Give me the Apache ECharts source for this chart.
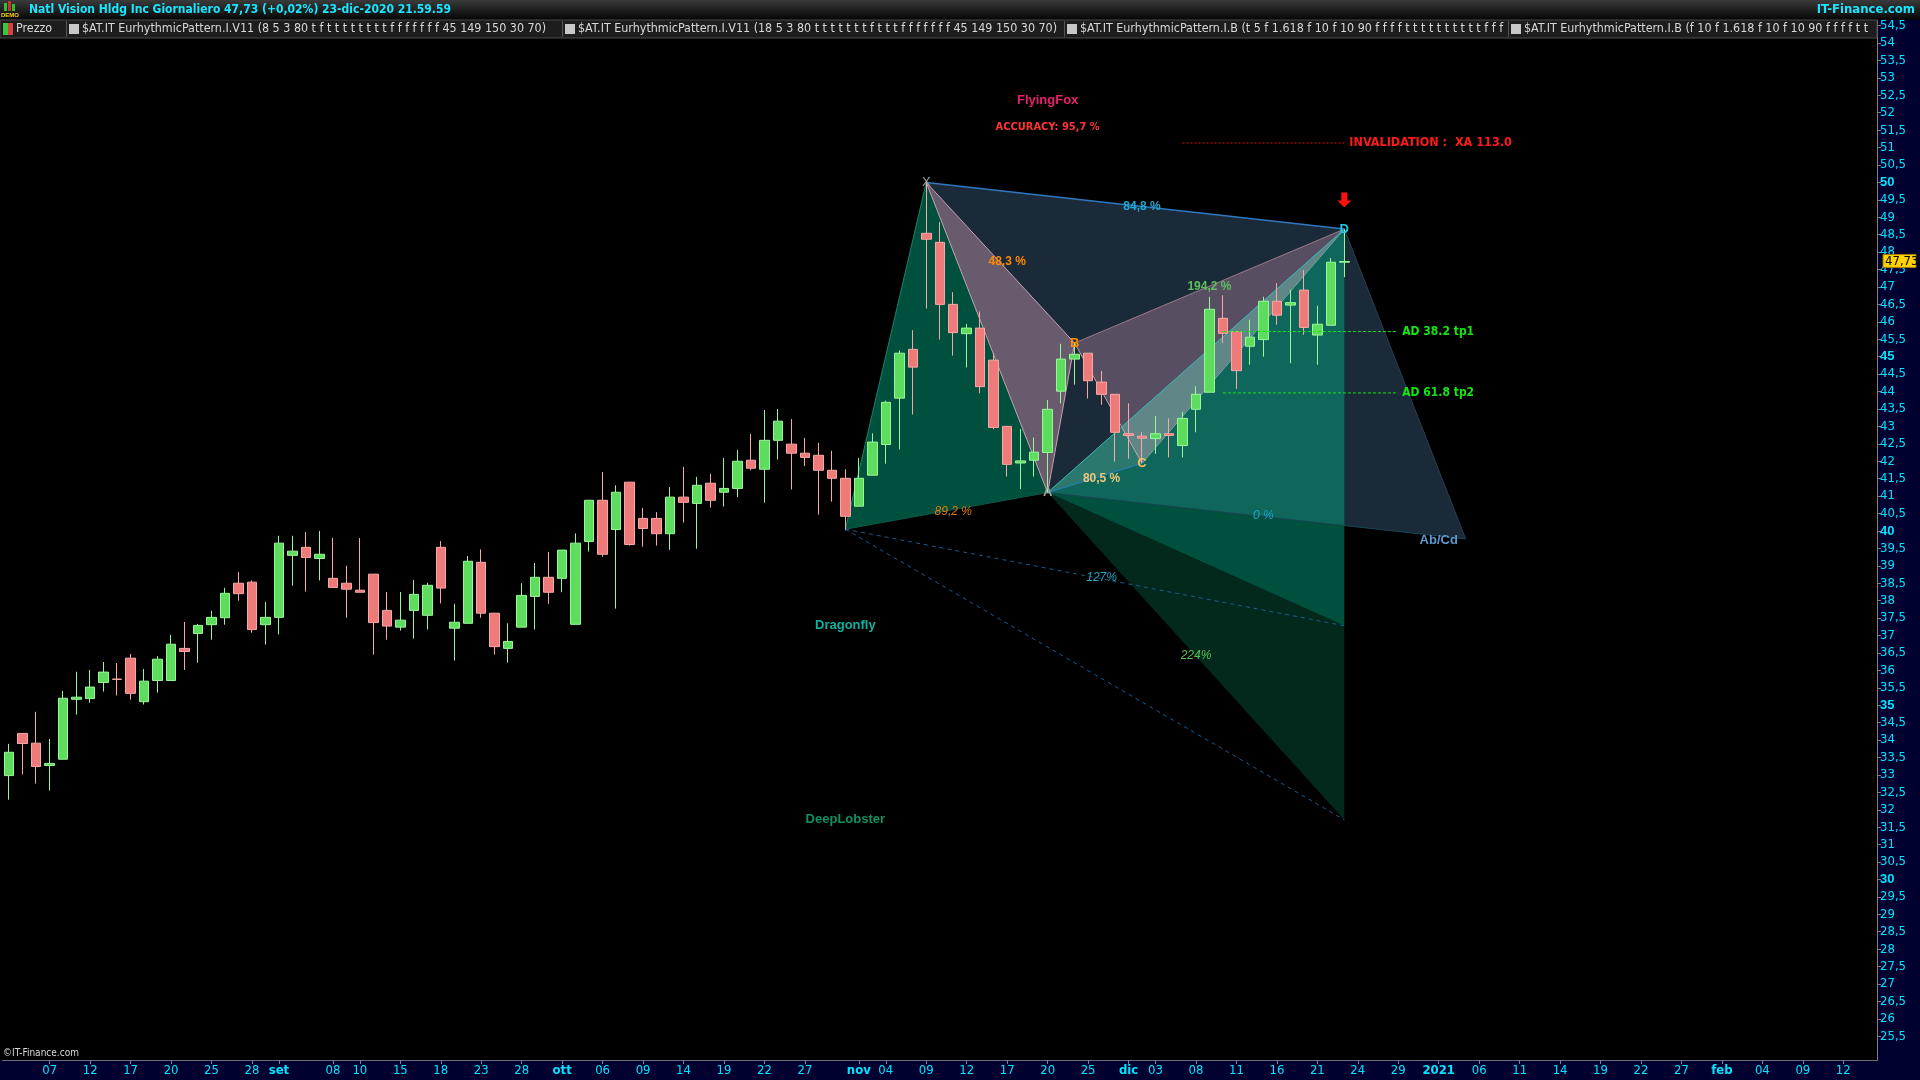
<!DOCTYPE html>
<html><head><meta charset="utf-8">
<script src="https://cdn.jsdelivr.net/npm/echarts@6/dist/echarts.min.js"></script>
<style>html,body{margin:0;padding:0;background:#000;overflow:hidden}#c{width:1920px;height:1080px}</style>
</head><body><div id="c"></div>
<script>
// ---------- DATA ----------
// daily candles, 4 Aug 2020 .. 23 Dec 2020 (100 bars)
const opens = [32.98,34.19,33.91,33.27,33.45,35.17,35.19,35.65,35.75,36.35,35.10,35.71,35.71,36.63,37.06,37.31,37.51,38.50,38.53,37.31,
37.52,39.30,39.53,39.21,38.64,38.50,38.30,38.76,37.72,37.24,37.72,37.58,39.53,37.21,37.35,39.10,37.64,36.63,37.24,38.12,
38.67,38.64,37.32,39.70,40.88,40.04,41.40,40.36,40.36,39.92,40.97,40.79,41.37,41.11,41.22,42.03,41.77,42.60,42.49,42.23,
42.17,41.74,41.51,40.71,41.60,42.48,43.81,45.21,48.54,48.28,46.50,45.66,45.82,44.90,43.00,41.95,42.03,42.25,44.01,44.93,
45.10,44.27,43.92,42.79,42.72,42.65,42.79,42.45,43.49,43.98,46.10,45.72,45.30,45.49,46.59,46.48,46.91,45.62,45.90,47.71];
const closes = [33.65,33.90,33.24,33.33,35.20,35.23,35.52,35.95,35.74,35.34,35.69,36.32,36.75,36.54,37.29,37.52,38.21,38.20,37.17,37.52,
39.65,39.42,39.24,39.33,38.38,38.33,38.24,37.37,37.27,37.44,38.18,38.44,38.36,37.38,39.13,37.64,36.68,36.83,38.15,38.67,
38.24,39.45,39.65,40.88,39.33,41.11,39.61,40.07,39.92,40.97,40.82,41.31,40.88,41.22,42.00,41.80,42.60,43.15,42.23,42.11,
41.74,41.51,40.42,41.51,42.55,43.69,45.10,44.70,48.37,46.50,45.69,45.82,44.14,42.97,41.91,42.01,42.26,43.49,44.93,45.07,
44.31,43.92,42.83,42.74,42.66,42.79,42.74,43.23,43.92,46.36,45.67,44.60,45.56,46.59,46.19,46.55,45.84,45.93,47.71,47.73];
const lows = [32.29,33.01,32.75,32.55,33.45,34.73,35.07,35.39,35.28,35.16,35.02,35.36,35.71,36.01,36.22,36.88,37.31,38.00,37.08,36.74,
37.03,38.43,38.26,38.58,38.38,37.51,38.24,36.45,36.88,37.14,36.91,37.17,37.92,36.28,37.35,37.51,36.45,36.22,37.24,37.17,
37.91,38.24,37.32,39.41,39.26,37.77,39.58,39.55,39.58,39.46,40.24,39.49,40.67,40.70,40.97,41.74,40.81,42.05,41.19,41.86,
40.47,40.84,40.02,40.71,41.60,41.93,42.34,43.34,46.38,45.49,45.03,44.69,43.95,42.92,41.56,41.20,41.56,41.10,43.66,44.20,
43.80,43.62,41.99,42.07,41.94,42.21,42.11,42.11,42.83,43.98,45.39,44.07,44.77,45.00,45.92,44.81,45.63,44.77,45.90,47.28];
const highs = [33.89,34.19,34.81,34.03,35.41,35.96,36.01,36.24,36.21,36.47,36.04,36.41,37.02,37.39,37.33,37.71,38.37,38.82,38.58,37.96,
39.86,39.86,39.97,40.00,39.80,39.00,39.80,38.76,38.25,38.25,38.59,38.51,39.71,37.91,39.28,39.47,37.64,37.35,38.50,39.08,
39.40,39.45,39.93,40.88,41.69,41.31,41.40,40.66,40.54,41.26,41.84,41.55,41.64,42.09,42.32,42.78,43.47,43.50,43.21,42.67,
42.53,42.30,41.77,42.09,42.80,43.74,45.18,45.76,50.00,48.86,46.85,45.94,46.30,45.10,43.00,42.92,42.68,43.76,45.37,45.39,
45.10,44.59,43.92,43.66,42.84,43.30,43.23,43.42,44.15,46.72,46.76,45.72,46.06,46.72,47.11,46.92,47.49,46.46,47.83,48.66];
const lastPrice = 47.73;

// x axis: trading-day slots (100 real + future), tick labels at slot index
const SLOT_COUNT = 139;
const xTickLabels = [[3,'07'],[6,'12'],[9,'17'],[12,'20'],[15,'25'],[18,'28'],[20,'set'],[24,'08'],[26,'10'],[29,'15'],
[32,'18'],[35,'23'],[38,'28'],[41,'ott'],[44,'06'],[47,'09'],[50,'14'],[53,'19'],[56,'22'],[59,'27'],[63,'nov'],[65,'04'],
[68,'09'],[71,'12'],[74,'17'],[77,'20'],[80,'25'],[83,'dic'],[85,'03'],[88,'08'],[91,'11'],[94,'16'],[97,'21'],[100,'24'],
[103,'29'],[106,'2021'],[109,'06'],[112,'11'],[115,'14'],[118,'19'],[121,'22'],[124,'27'],[127,'feb'],[130,'04'],[133,'09'],[136,'12']];
const boldXLabels = ['set','ott','nov','dic','2021','feb'];
const yTickValues = [25.5,26,26.5,27,27.5,28,28.5,29,29.5,30,30.5,31,31.5,32,32.5,33,33.5,34,34.5,35,35.5,36,36.5,37,37.5,38,38.5,39,39.5,40,
40.5,41,41.5,42,42.5,43,43.5,44,44.5,45,45.5,46,46.5,47,47.5,48,48.5,49,49.5,50,50.5,51,51.5,52,52.5,53,53.5,54,54.5];
const Y_MIN = 24.82, Y_MAX = 54.66;

// harmonic pattern points [slot, price]
const pX = [68, 50.00], pA = [77, 41.10], pB = [79, 45.39], pC = [84, 41.94], pD = [99, 48.66];
const pZero = [62, 40.05], pAbCd = [108, 39.77], p0pct = [99, 40.15], p127 = [99, 37.28], p224 = [99, 31.71];
const fillShapes = [
  ['navy', [pX, pD, pAbCd, pA]],
  ['green', [pZero, pX, pA]],
  ['dark', [pA, p127, p224]],
  ['mid', [pA, p0pct, p127]],
  ['teal', [pA, pD, p0pct]],
  ['xab', [pX, pA, pB]],
  ['bcd', [pB, pC, pD]],
  ['acd', [pA, pC, pD]]
];
const lineShapes = [
  ['edge', pZero, pA], ['edgeG', pZero, pX], ['zero', pA, pAbCd], ['abcdEdge', pD, pAbCd],
  ['pink', pX, pA], ['pink', pX, pB], ['pink', pA, pB], ['mauve', pB, pD], ['pink', pB, pC],
  ['light', pC, pD], ['blue', pA, pC], ['cyan', pA, pD], ['xd', pX, pD],
  ['dash', pZero, p127], ['dash', pZero, p224]
];
const annotations = [
  ['FlyingFox', 76.9, 52.35, 'flyingfox'], ['ACCURACY: 95,7 %', 76.9, 51.58, 'accuracy'],
  ['84,8 %', 83.8, 49.30, 'ratioXD'], ['48,3 %', 73.9, 47.72, 'ratioAB'], ['194,2 %', 88.9, 47.02, 'ratioCD'],
  ['80,5 %', 80.85, 41.50, 'ratioBC'], ['89,2 %', 69.9, 40.55, 'ratioDf'], ['0 %', 92.9, 40.44, 'ratio0'],
  ['127%', 80.9, 38.65, 'ratio127'], ['224%', 87.8, 36.41, 'ratio224'], ['Ab/Cd', 105.9, 39.74, 'abcd'],
  ['Dragonfly', 62.0, 37.28, 'dragonfly'], ['DeepLobster', 62.0, 31.71, 'lobster'],
  ['X', 68, 50.00, 'pX'], ['A', 77, 41.10, 'pA'], ['B', 79, 45.39, 'pB'], ['C', 84, 41.94, 'pC'], ['D', 99, 48.66, 'pD']
];
const targetLevels = [['AD 38.2 tp1', 45.72], ['AD 61.8 tp2', 43.96]];
const targetSpan = [89.9, 103.0];
const invalidation = ['INVALIDATION :  XA 113.0', 51.13];
const invalidationSpan = [86.85, 99.1];
const arrowPoint = [99, 49.48];

const titleText = 'Natl Vision Hldg Inc Giornaliero 47,73 (+0,02%) 23-dic-2020 21.59.59';
const legendItems = ['Prezzo',
 '$AT.IT EurhythmicPattern.I.V11 (8 5 3 80 t f t t t t t t t t f f f f f f f 45 149 150 30 70)',
 '$AT.IT EurhythmicPattern.I.V11 (18 5 3 80 t t t t t t t f t t t f f f f f f f 45 149 150 30 70)',
 '$AT.IT EurhythmicPattern.I.B (t 5 f 1.618 f 10 f 10 90 f f f f t t t t t t t t t t f f f)',
 '$AT.IT EurhythmicPattern.I.B (f 10 f 1.618 f 10 f 10 90 f f f f t t t t t t t t t t f f f)'];

// ---------- STYLE ----------
const NARROW = "'Liberation Sans Narrow','Arial Narrow','DejaVu Sans Condensed',sans-serif";
const SANS = "'Liberation Sans',Arial,sans-serif";
const AXIS_COLOR = '#00e5ff';
const fillColors = {navy:'#1b2a38', green:'#00503e', dark:'#03291d', mid:'#00503e', teal:'#0f665b',
  xab:'rgba(200,150,175,0.45)', bcd:'rgba(200,150,175,0.35)', acd:'rgba(190,215,215,0.16)'};
const lineStylesMap = {
  edge:{stroke:'#0b5a4a',lineWidth:1}, edgeG:{stroke:'#12876a',lineWidth:1}, zero:{stroke:'#1a4656',lineWidth:1},
  abcdEdge:{stroke:'#2a3e52',lineWidth:1},
  pink:{stroke:'#c8a2b2',lineWidth:1}, mauve:{stroke:'#9a7888',lineWidth:1}, light:{stroke:'#6fa2a0',lineWidth:1},
  blue:{stroke:'#2a80b8',lineWidth:1}, cyan:{stroke:'#38b8b8',lineWidth:1}, xd:{stroke:'#2f78c0',lineWidth:1.5},
  dash:{stroke:'#1d5a8a',lineWidth:1,lineDash:[4,4]}
};
const annoStyles = {
  flyingfox:{fill:'#e8206e',font:'bold 13px '+SANS}, accuracy:{fill:'#ff3535',font:'bold 11px '+NARROW},
  ratioXD:{fill:'#1fa8d0',font:'bold 12px '+SANS}, ratioAB:{fill:'#ff8a00',font:'bold 12px '+SANS},
  ratioCD:{fill:'#5cc05c',font:'bold 12px '+SANS}, ratioBC:{fill:'#f0c878',font:'bold 12px '+SANS},
  ratioDf:{fill:'#e07a10',font:'italic 12px '+SANS}, ratio0:{fill:'#1aa8c8',font:'italic 12px '+SANS},
  ratio127:{fill:'#1aa8c8',font:'italic 12px '+SANS}, ratio224:{fill:'#58c058',font:'italic 12px '+SANS},
  abcd:{fill:'#5a9ad0',font:'bold 13px '+SANS}, dragonfly:{fill:'#10b0a0',font:'bold 13px '+SANS},
  lobster:{fill:'#109060',font:'bold 13px '+SANS},
  pX:{fill:'#a0a0a0',font:'13px '+SANS}, pA:{fill:'#a0a0a0',font:'bold 13px '+SANS}, pB:{fill:'#ff8c00',font:'bold 13px '+SANS},
  pC:{fill:'#f0c060',font:'bold 13px '+SANS}, pD:{fill:'#20c8e8',font:'bold 13px '+SANS}
};

// ---------- BUILD ----------
const slots = []; for (let i = 0; i < SLOT_COUNT; i++) slots.push(String(i));
const labelMap = {}; xTickLabels.forEach(t => labelMap[t[0]] = t[1]);
const candleData = opens.map((o, i) => [o, closes[i], lows[i], highs[i]]);
const fmtNum = v => (Math.round(v * 10) / 10).toString().replace('.', ',');
function fmtNum2(v){ return v.toFixed(2).replace('.', ','); }

function txt(t, x, y, st) {
  return {type:'text', x, y, style:Object.assign({text:t, fill:'#fff', font:'12px '+SANS, align:'center', verticalAlign:'middle',
    textAlign:'center', textVerticalAlign:'middle'}, st)};
}

const graphics = [
  {type:'rect', z:-1, shape:{x:1877,y:20,width:43,height:1060}, style:{fill:'#000030'}},
  {type:'rect', z:-1, shape:{x:0,y:1060,width:1920,height:20}, style:{fill:'#000030'}},
  {type:'rect', z:100, shape:{x:0,y:0,width:1920,height:20},
    style:{fill:new echarts.graphic.LinearGradient(0,0,0,1,[{offset:0,color:'#3a3a3a'},{offset:1,color:'#050505'}])}},
  {type:'rect', z:101, shape:{x:4,y:3,width:3,height:8}, style:{fill:'#30c030'}},
  {type:'rect', z:101, shape:{x:8,y:1,width:3,height:10}, style:{fill:'#d03030'}},
  {type:'rect', z:101, shape:{x:12,y:4,width:3,height:7}, style:{fill:'#30c030'}},
  {type:'text', z:101, x:10, y:15, style:{text:'DEMO', fill:'#ffd000', font:'bold 6px '+SANS, align:'center', verticalAlign:'middle'}},
  {type:'text', z:101, x:29, y:10, style:{text:titleText, fill:'#19e6ff', font:'bold 12px '+NARROW, align:'left', verticalAlign:'middle'}},
  {type:'text', z:101, x:1915, y:10, style:{text:'IT-Finance.com', fill:'#19e6ff', font:'bold 13px '+NARROW, align:'right', verticalAlign:'middle'}},
  {type:'rect', z:100, shape:{x:0,y:20,width:1877,height:18}, style:{fill:'#1d1d1d', stroke:'#4a4a4a', lineWidth:1}},
  {type:'rect', z:101, shape:{x:3,y:23,width:5,height:12}, style:{fill:'#3cc83c'}},
  {type:'rect', z:101, shape:{x:8,y:23,width:5,height:12}, style:{fill:'#d84040'}},
  {type:'text', z:101, x:16, y:29, style:{text:legendItems[0], fill:'#d8d8d8', font:'12.4px '+NARROW, align:'left', verticalAlign:'middle'}},
  {type:'text', z:101, x:3, y:1053, style:{text:'©IT-Finance.com', fill:'#d8d8d8', font:'10px '+NARROW, align:'left', verticalAlign:'middle'}}
];
const legendStarts = [66, 562, 1064, 1508];
const legendEnd = 1877;
legendStarts.forEach((lx, k) => {
  graphics.push({type:'line', z:101, shape:{x1:lx+0.5,y1:21,x2:lx+0.5,y2:37}, style:{stroke:'#555',lineWidth:1}});
  graphics.push({type:'rect', z:101, shape:{x:lx+3,y:24,width:10,height:10}, style:{fill:'#c8c8c8'}});
  const nextX = k < legendStarts.length - 1 ? legendStarts[k+1] - 2 : legendEnd;
  const st = {text:legendItems[k+1], fill:'#d8d8d8', font:'12.4px '+NARROW, align:'left', verticalAlign:'middle',
    width: nextX - (lx + 16), overflow:'truncate', ellipsis:''};
  graphics.push({type:'text', z:101, x:lx+16, y:29, style:st});
});

const option = {
  backgroundColor:'#000',
  animation:false,
  grid:{left:2.5, top:20, width:1874.5, height:1040, containLabel:false},
  xAxis:{type:'category', data:slots, boundaryGap:true,
    axisLine:{show:true, lineStyle:{color:'#707070'}},
    axisTick:{show:true, alignWithLabel:true, length:4, interval:(i)=>labelMap[i]!==undefined, lineStyle:{color:'#8080a0'}},
    axisLabel:{interval:(i)=>labelMap[i]!==undefined, margin:4, color:AXIS_COLOR, fontFamily:NARROW, fontSize:13,
      formatter:(v,i)=>{const l = labelMap[i]; if (l===undefined) return ''; return boldXLabels.includes(l) ? '{b|'+l+'}' : l;},
      rich:{b:{fontWeight:'bold', color:AXIS_COLOR, fontFamily:NARROW, fontSize:13}}},
    splitLine:{show:false}},
  yAxis:{type:'value', position:'right', min:Y_MIN, max:Y_MAX, scale:true,
    axisLine:{show:true, lineStyle:{color:'#808080'}},
    axisTick:{show:true, customValues:yTickValues, length:4, lineStyle:{color:'#808080'}},
    axisLabel:{customValues:yTickValues, margin:3, color:AXIS_COLOR, fontFamily:NARROW, fontSize:13,
      formatter:(v)=>{const s = fmtNum(v); return (Math.abs(v % 5) < 1e-6) ? '{b|'+s+'}' : s;},
      rich:{b:{fontWeight:'bold', color:AXIS_COLOR, fontFamily:SANS, fontSize:13}}},
    splitLine:{show:false}},
  graphic:graphics,
  series:[
    {type:'custom', name:'fills', z:1, silent:true, clip:false,
      data:fillShapes.map(s => s[1][0]),
      renderItem:(params, api) => {
        const s = fillShapes[params.dataIndex];
        return {type:'polygon', shape:{points:s[1].map(p => api.coord(p))}, style:{fill:fillColors[s[0]]}};
      }},
    {type:'custom', name:'lines', z:2, silent:true, clip:false,
      data:lineShapes.map(s => s[1]),
      renderItem:(params, api) => {
        const s = lineShapes[params.dataIndex];
        const a = api.coord(s[1]), b = api.coord(s[2]);
        return {type:'line', shape:{x1:a[0],y1:a[1],x2:b[0],y2:b[1]}, style:Object.assign({fill:null}, lineStylesMap[s[0]])};
      }},
    {type:'candlestick', name:'Prezzo', z:3, data:candleData, barWidth:10,
      itemStyle:{color:'#5ddc5d', color0:'#ee7a7a', borderColor:'#98f898', borderColor0:'#f8a8a8', borderWidth:1}},
    {type:'custom', name:'targets', z:4, silent:true, clip:false,
      data:targetLevels.map(t => [targetSpan[0], t[1]]),
      renderItem:(params, api) => {
        const t = targetLevels[params.dataIndex];
        const a = api.coord([targetSpan[0], t[1]]), b = api.coord([targetSpan[1], t[1]]);
        return {type:'group', children:[
          {type:'line', shape:{x1:a[0],y1:a[1],x2:b[0],y2:b[1]}, style:{stroke:'#14e614',lineWidth:1,lineDash:[3,2]}},
          {type:'text', x:b[0]+4, y:b[1], style:{text:t[0], fill:'#14e614', font:'bold 12px '+NARROW, align:'left', verticalAlign:'middle', textAlign:'left', textVerticalAlign:'middle'}}
        ]};
      }},
    {type:'custom', name:'invalidation', z:4, silent:true, clip:false,
      data:[[invalidationSpan[0], invalidation[1]]],
      renderItem:(params, api) => {
        const a = api.coord([invalidationSpan[0], invalidation[1]]), b = api.coord([invalidationSpan[1], invalidation[1]]);
        const d = api.coord(arrowPoint);
        return {type:'group', children:[
          {type:'line', shape:{x1:a[0],y1:a[1],x2:b[0],y2:b[1]}, style:{stroke:'#e01010',lineWidth:1,lineDash:[2,2]}},
          {type:'text', x:b[0]+5, y:b[1], style:{text:invalidation[0], fill:'#ff1a1a', font:'bold 12.5px '+NARROW, align:'left', verticalAlign:'middle', textAlign:'left', textVerticalAlign:'middle'}},
          {type:'polygon', shape:{points:[[d[0]-3,d[1]-8],[d[0]+3,d[1]-8],[d[0]+3,d[1]],[d[0]+7,d[1]],[d[0],d[1]+7],[d[0]-7,d[1]],[d[0]-3,d[1]]]}, style:{fill:'#ff1010'}}
        ]};
      }},
    {type:'custom', name:'annotations', z:5, silent:true, clip:false,
      data:annotations.map(a => [a[1], a[2]]),
      renderItem:(params, api) => {
        const a = annotations[params.dataIndex];
        const p = api.coord([a[1], a[2]]);
        return txt(a[0], p[0], p[1], annoStyles[a[3]]);
      }},
    {type:'custom', name:'lastPrice', z:6, silent:true, clip:false,
      data:[[opens.length - 1, lastPrice]],
      renderItem:(params, api) => {
        const p = api.coord([opens.length - 1, lastPrice]);
        const x0 = params.coordSys.x + params.coordSys.width;
        return {type:'group', children:[
          {type:'rect', shape:{x:x0+6, y:p[1]-7, width:33, height:13}, style:{fill:'#ffd200', stroke:'#a07800', lineWidth:1}},
          {type:'text', x:x0+8, y:p[1], style:{text:fmtNum2(lastPrice), fill:'#000', font:'13px '+NARROW, align:'left', verticalAlign:'middle', textAlign:'left', textVerticalAlign:'middle'}}
        ]};
      }}
  ]
};
const chart = echarts.init(document.getElementById('c'), null, {width:1920, height:1080});
chart.setOption(option);
</script></body></html>
